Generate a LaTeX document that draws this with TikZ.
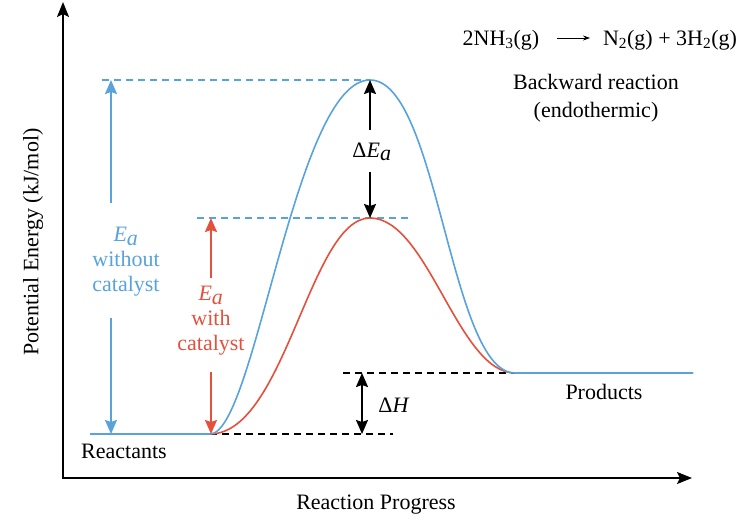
\documentclass[tikz,border=0pt]{standalone}
\usepackage{fontspec}
\setmainfont{Liberation Serif}
\usetikzlibrary{arrows.meta}
\definecolor{cblue}{RGB}{88,163,220}
\definecolor{cred}{RGB}{228,80,60}
\begin{document}
\begin{tikzpicture}[x=1pt,y=-1pt,
  txt/.style={font=\fontsize{22}{25}\selectfont, inner sep=0pt, align=center},
  axisline/.style={line width=1.8pt, line join=miter, {Stealth[length=15pt,width=12pt,inset=3pt]}-{Stealth[length=15pt,width=12pt,inset=3pt]}},
  curveline/.style={line width=1.6pt},
  bdash/.style={cblue, line width=1.5pt, dash pattern=on 7pt off 5pt},
  kdash/.style={black, line width=1.5pt, dash pattern=on 7pt off 5pt},
  marrow/.style={line width=1.8pt, -{Stealth[length=14pt,width=12pt,inset=2pt]}},
  darrow/.style={line width=1.8pt, {Stealth[length=14pt,width=12pt,inset=2pt]}-{Stealth[length=14pt,width=12pt,inset=2pt]}}
]
\useasboundingbox (0,0) rectangle (753,525);
% axes
\coordinate (ytip) at (63,2);
\coordinate (O) at (63,478);
\coordinate (xtip) at (692,478);
\draw[axisline] (ytip) -- (O) -- (xtip);
% key points
\coordinate (R0) at (90,434);
\coordinate (R1) at (210,434);
\coordinate (TS) at (370,80);
\coordinate (TSc) at (370,218);
\coordinate (P0) at (515,373);
\coordinate (P1) at (693,373);
% dashed guide lines
\coordinate (bd1) at (102,80);
\coordinate (bd2a) at (197,218);
\coordinate (bd2b) at (410,218);
\coordinate (kd1) at (393,434);
\coordinate (kd2) at (343,373);
\draw[bdash] (bd1) -- (TS);
\draw[bdash] (bd2a) -- (bd2b);
\draw[kdash] (R1) -- (kd1);
\draw[kdash] (kd2) -- (P0);
% curves
\draw[cred, curveline] (R0) -- (R1) .. controls (285,434) and (310,218) .. (TSc) .. controls (428,218) and (458,373) .. (P0) -- (P1);
\draw[cblue, curveline] (R0) -- (R1) .. controls (255,434) and (295,80) .. (TS) .. controls (438,80) and (450,373) .. (P0) -- (P1);
% Ea without catalyst
\node[txt, text=cblue] (eab) at (126,262) {$\textit{E}_{\textit{a}}$\\without\\catalyst};
\coordinate (eabT) at (111,80);
\coordinate (eabU) at (111,203);
\coordinate (eabL) at (111,318);
\coordinate (eabB) at (111,434);
\draw[marrow, cblue] (eabU) -- (eabT);
\draw[marrow, cblue] (eabL) -- (eabB);
% Ea with catalyst
\node[txt, text=cred] (ear) at (211,321) {$\textit{E}_{\textit{a}}$\\with\\catalyst};
\coordinate (earT) at (211,218);
\coordinate (earU) at (211,278);
\coordinate (earL) at (211,372);
\coordinate (earB) at (211,434);
\draw[marrow, cred] (earU) -- (earT);
\draw[marrow, cred] (earL) -- (earB);
% Delta Ea
\node[txt] (dea) at (372,152) {Δ$\textit{E}_{\textit{a}}$};
\coordinate (deaU) at (370,130);
\coordinate (deaL) at (370,172);
\draw[marrow] (deaU) -- (TS);
\draw[marrow] (deaL) -- (TSc);
% Delta H
\coordinate (dhT) at (362,373);
\coordinate (dhB) at (362,434);
\draw[darrow] (dhT) -- (dhB);
\node[txt] (dh) at (394,405) {Δ\textit{H}};
% labels
\node[txt] (prod) at (604,392) {Products};
\node[txt] (reac) at (124,451) {Reactants};
\node[txt] (xlab) at (376,505) {Reaction Progress};
\node[txt, rotate=90] (ylab) at (33,242) {Potential Energy (kJ/mol)};
% equation
\node[txt] (eqL) at (501,40) {2NH\textsubscript{3}(g)};
\node[txt] (eqR) at (670,40) {N\textsubscript{2}(g) + 3H\textsubscript{2}(g)};
\coordinate (eqA1) at (557,38);
\coordinate (eqA2) at (590,38);
\draw[line width=0.7pt, -{Stealth[length=7pt,width=5pt]}] (eqA1) -- (eqA2);
\node[txt, font=\fontsize{22}{28}\selectfont] (back) at (596,98) {Backward reaction\\(endothermic)};
\end{tikzpicture}
\end{document}
